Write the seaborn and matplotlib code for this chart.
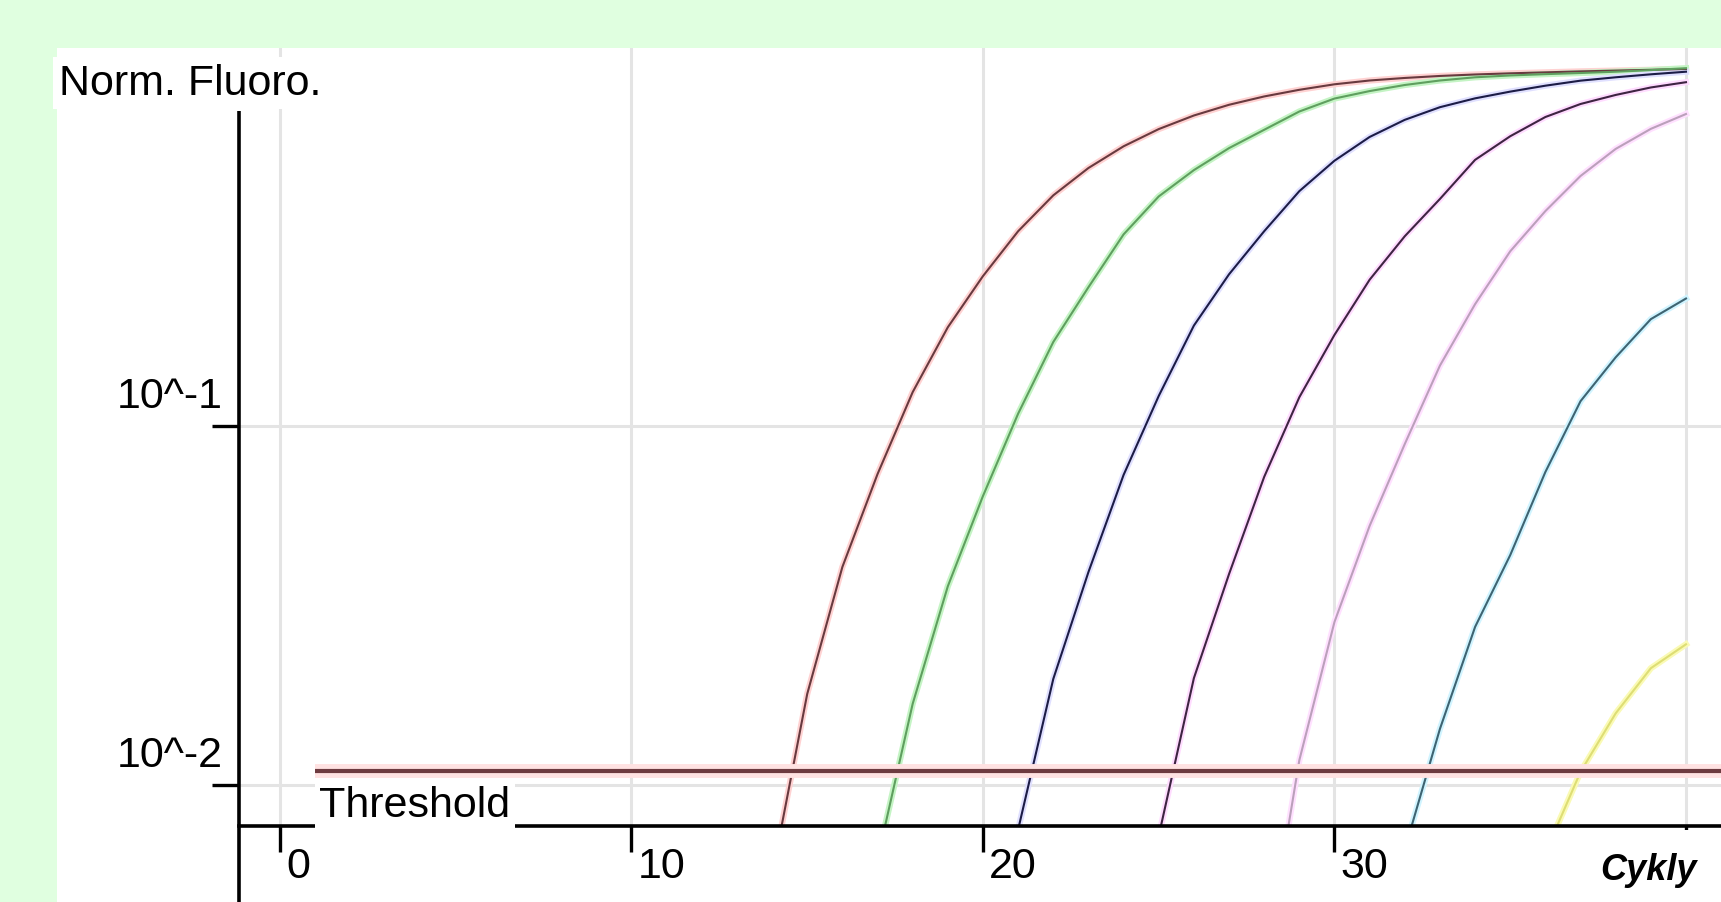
import numpy as np
import pandas as pd
import matplotlib
matplotlib.use('Agg')
import matplotlib.pyplot as plt
from matplotlib.patches import Rectangle
from matplotlib.transforms import ScaledTranslation
import seaborn as sns

plt.rcParams['font.family'] = ['Liberation Sans', 'DejaVu Sans']

# normalised fluorescence per sample
cycles_a = list(range(14, 41))
fluor_a = [0.0056, 0.0179, 0.0404, 0.0733, 0.124, 0.188, 0.261, 0.348, 0.438, 0.522,
           0.600, 0.670, 0.731, 0.783, 0.826, 0.862, 0.893, 0.915, 0.930, 0.942,
           0.951, 0.958, 0.964, 0.970, 0.975, 0.980, 0.985]

cycles_b = list(range(17, 41))
fluor_b = [0.0062, 0.0168, 0.0357, 0.0637, 0.108, 0.171, 0.243, 0.341, 0.435, 0.515,
           0.593, 0.667, 0.750, 0.815, 0.855, 0.889, 0.915, 0.934, 0.945, 0.953,
           0.960, 0.968, 0.978, 0.990]

cycles_c = list(range(21, 41))
fluor_c = [0.0075, 0.0197, 0.0391, 0.0729, 0.121, 0.190, 0.264, 0.348, 0.450, 0.547,
           0.637, 0.711, 0.771, 0.816, 0.852, 0.885, 0.914, 0.934, 0.952, 0.968]

cycles_d = list(range(25, 41))
fluor_d = [0.0072, 0.0198, 0.0386, 0.072, 0.120, 0.179, 0.255, 0.337, 0.428, 0.550,
           0.640, 0.724, 0.787, 0.834, 0.875, 0.905]

cycles_e = list(range(28, 41))
fluor_e = [0.003, 0.0117, 0.0284, 0.0526, 0.0889, 0.147, 0.218, 0.306, 0.396, 0.496,
           0.590, 0.671, 0.738]

cycles_f = list(range(32, 41))
fluor_f = [0.0066, 0.0143, 0.0275, 0.0436, 0.0743, 0.117, 0.155, 0.198, 0.226]

cycles_g = list(range(36, 41))
fluor_g = [0.00645, 0.01086, 0.0158, 0.0211, 0.0246]

samples = ['A', 'B', 'C', 'D', 'E', 'F', 'G']
core_colors = ['#683a3f', '#5f9f5f', '#1c1c46', '#3e2442', '#bba0bb', '#3e6472', '#dede74']
halo_colors = ['#ffd2d2', '#c4f4c4', '#e0e0ff', '#ffdcff', '#ffe0ff', '#d0f4ff', '#fafab4']

threshold = 0.0109
threshold_start = 1

x_ticks = [0, 10, 20, 30, 40]
x_tick_labels = ['0', '10', '20', '30', '']
y_ticks = [0.01, 0.1]
y_tick_labels = ['10^-2', '10^-1']

frames = []
for name, cyc, val in zip(samples,
                          [cycles_a, cycles_b, cycles_c, cycles_d, cycles_e, cycles_f, cycles_g],
                          [fluor_a, fluor_b, fluor_c, fluor_d, fluor_e, fluor_f, fluor_g]):
    frames.append(pd.DataFrame({'cycle': cyc, 'fluor': val, 'sample': name}))
df = pd.concat(frames, ignore_index=True)

W, H = 1721, 903
fig = plt.figure(figsize=(W / 100, H / 100), dpi=100, facecolor='#e0ffe0')
# white panel
fig.add_artist(Rectangle((57 / W, 0), 1, (H - 49) / H, transform=fig.transFigure,
                         facecolor='white', edgecolor='none', zorder=-1))

ax = fig.add_axes([239 / W, (H - 827) / H, (W - 239) / W, (827 - 49) / H])
ax.set_facecolor('none')

sns.lineplot(data=df, x='cycle', y='fluor', hue='sample', palette=dict(zip(samples, halo_colors)),
             estimator=None, linewidth=4.5, legend=False, ax=ax)
sns.lineplot(data=df, x='cycle', y='fluor', hue='sample', palette=dict(zip(samples, core_colors)),
             estimator=None, linewidth=1.5, legend=False, ax=ax)

ax.set_yscale('log')
ax.set_xlim(-1.166, 40.996)
ax.set_ylim(0.00767, 1.127)
ax.set_xlabel('')
ax.set_ylabel('')

# threshold line
ax.hlines(threshold, threshold_start, 41, color='#ffe2e2', lw=10, zorder=4)
ax.hlines(threshold, threshold_start, 41, color='#6e3b40', lw=3, zorder=4.1)
ax.text(1.12, 0.00817, 'Threshold', fontsize=31, ha='left', va='baseline', zorder=3,
        bbox=dict(facecolor='white', edgecolor='none', pad=3))

# axes
for s in ['top', 'right', 'left']:
    ax.spines[s].set_visible(False)
ax.spines['bottom'].set_linewidth(2.6)
ax.spines['bottom'].set_color('black')
ax.plot([0, 0], [-0.11, 0.919], transform=ax.transAxes, color='black', lw=2.6,
        clip_on=False, solid_capstyle='butt')

ax.set_xticks(x_ticks, x_tick_labels)
ax.set_yticks(y_ticks, y_tick_labels)
ax.minorticks_off()
ax.tick_params(axis='x', direction='out', length=18.7, width=2.4, pad=-4.3,
               labelsize=31, color='black')
ax.tick_params(axis='y', direction='out', length=19.4, width=2.4, pad=-7.9,
               labelsize=31, color='black')

for lbl in ax.get_xticklabels():
    lbl.set_horizontalalignment('left')
    lbl.set_transform(lbl.get_transform() + ScaledTranslation(0.06, 0, fig.dpi_scale_trans))
for lbl in ax.get_yticklabels():
    lbl.set_verticalalignment('center')
    lbl.set_transform(lbl.get_transform() + ScaledTranslation(0, 0.30, fig.dpi_scale_trans))

ax.grid(True, which='major', color='#e4e4e4', lw=2.2)
ax.set_axisbelow(True)

fig.text(59 / W, (H - 95) / H, 'Norm. Fluoro.', fontsize=31, ha='left', va='baseline',
         bbox=dict(facecolor='white', edgecolor='none', pad=4), zorder=5)
fig.text(1648 / W, (H - 880) / H, 'Cykly', fontsize=26, fontweight='bold', fontstyle='italic',
         ha='center', va='baseline', bbox=dict(facecolor='white', edgecolor='none', pad=16),
         zorder=5)

fig.savefig('out.png', dpi=100, facecolor=fig.get_facecolor())
